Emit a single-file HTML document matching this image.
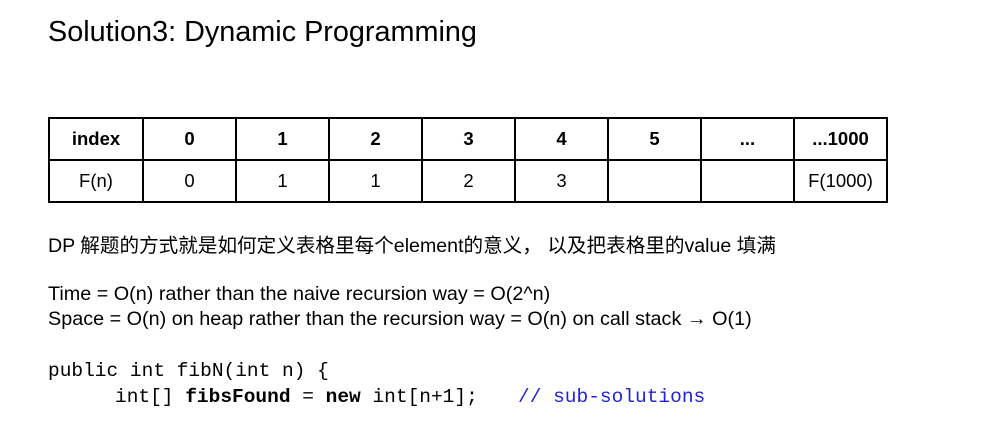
<!DOCTYPE html>
<html><head><meta charset="utf-8"><style>
body{margin:0;width:995px;height:427px;background:#fff;position:relative;font-family:"Liberation Sans","Noto Sans CJK SC",sans-serif;color:#000;overflow:hidden}
.t{position:absolute;white-space:pre}
table{position:absolute;left:48px;top:117px;border-collapse:collapse;font-size:18.5px}
td{border:2px solid #000;height:40px;text-align:center;padding:0;width:91px}
tr:first-child td{font-weight:bold}
.code{font-family:"Liberation Mono",monospace;font-size:19.5px}
</style></head><body>
<div class="t" style="left:48px;top:16px;font-size:28.8px">Solution3: Dynamic Programming</div>
<table>
<tr><td style="width:92px">index</td><td>0</td><td>1</td><td>2</td><td>3</td><td>4</td><td>5</td><td>...</td><td>...1000</td></tr>
<tr><td>F(n)</td><td>0</td><td>1</td><td>1</td><td>2</td><td>3</td><td></td><td></td><td>F(1000)</td></tr>
</table>
<div class="t" style="left:48px;top:229px;font-size:19.6px">DP 解题的方式就是如何定义表格里每个element的意义， 以及把表格里的value 填满</div>
<div class="t" style="left:48px;top:283px;font-size:19.8px">Time = O(n) rather than the naive recursion way = O(2^n)</div>
<div class="t" style="left:48px;top:308px;font-size:19.8px">Space = O(n) on heap rather than the recursion way = O(n) on call stack → O(1)</div>
<div class="t code" style="left:48px;top:360px">public int fibN(int n) {</div>
<div class="t code" style="left:115px;top:386px">int[] <b>fibsFound</b> = <b>new</b> int[n+1];</div>
<div class="t code" style="left:518px;top:386px;color:#2222dd">// sub-solutions</div>
</body></html>
